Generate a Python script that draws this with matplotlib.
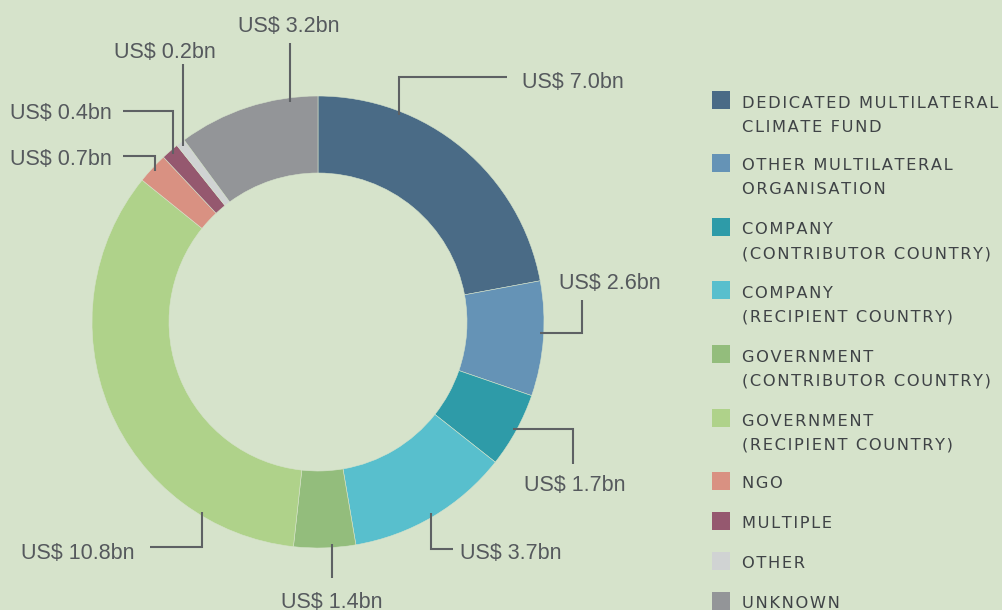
import numpy as np
import matplotlib
matplotlib.use("Agg")
import matplotlib.pyplot as plt
from matplotlib.patches import Rectangle

# funding by recipient type, US$ bn
categories = [
    "DEDICATED MULTILATERAL\nCLIMATE FUND",
    "OTHER MULTILATERAL\nORGANISATION",
    "COMPANY\n(CONTRIBUTOR COUNTRY)",
    "COMPANY\n(RECIPIENT COUNTRY)",
    "GOVERNMENT\n(CONTRIBUTOR COUNTRY)",
    "GOVERNMENT\n(RECIPIENT COUNTRY)",
    "NGO",
    "MULTIPLE",
    "OTHER",
    "UNKNOWN",
]
values = [7.0, 2.6, 1.7, 3.7, 1.4, 10.8, 0.7, 0.4, 0.2, 3.2]
colors = ["#4a6b86", "#6593b6", "#2e9ba8", "#58bfcd", "#93bd7c",
          "#afd28a", "#d99182", "#95586f", "#d0d3d3", "#939598"]

W, H = 1003, 610
BG = "#d6e3cb"
LINE = "#5e6164"
TXT = "#55595d"
LEG_TXT = "#3f4346"


def Y(v):
    # image rows -> axes coords (y up)
    return H - v


def spaced(s):
    # poor man's letter spacing
    return "\u200a".join(s)


fig = plt.figure(figsize=(W / 100, H / 100), dpi=100, facecolor=BG)
ax = fig.add_axes([0, 0, 1, 1])
ax.set_facecolor(BG)

cx, cy = 318, Y(322)
r_out, ring = 226, 77
wedges, _ = ax.pie(values, colors=colors, startangle=90, counterclock=False,
                   radius=r_out, center=(cx, cy),
                   wedgeprops=dict(width=ring, edgecolor=BG, linewidth=0.4))
ax.set_xlim(0, W)
ax.set_ylim(0, H)
ax.set_aspect("auto")
ax.axis("off")

# callouts: fraction along wedge, first segment dir, elbow, end, text x, text y, ha
callouts = [
    (0.27, "v", 77, 507, 522, 80, "left"),
    (0.45, "h", 582, 300, 610, 281, "center"),
    (0.50, "h", 573, 464, 575, 483, "center"),
    (0.50, "v", 549, 453, 460, 551, "left"),
    (0.38, "v", 578, None, 332, 600, "center"),
    (0.205, "v", 547, 150, 135, 551, "right"),
    (0.50, "v", 156, 123, 112, 157, "right"),
    (0.50, "v", 111, 123, 112, 111, "right"),
    (0.50, "v", 64, None, 165, 50, "center"),
    (0.80, "v", 43, None, 289, 24, "center"),
]

for w, v, (frac, d, elbow, end, tx, ty, ha) in zip(wedges, values, callouts):
    a = np.radians(w.theta2 - frac * (w.theta2 - w.theta1))
    x0 = cx + (r_out - 4) * np.cos(a)
    y0 = cy + (r_out - 4) * np.sin(a)
    if d == "v":
        xs, ys = [x0, x0], [y0, Y(elbow)]
        if end is not None:
            xs.append(end)
            ys.append(Y(elbow))
    else:
        xs, ys = [x0, elbow], [y0, y0]
        if end is not None:
            xs.append(elbow)
            ys.append(Y(end))
    ax.plot(xs, ys, color=LINE, lw=1.5, solid_capstyle="butt",
            solid_joinstyle="miter")
    ax.text(tx, Y(ty + 8), f"US$ {v:.1f}bn", ha=ha, va="baseline",
            fontsize=15.5, color=TXT, family=["Liberation Sans", "DejaVu Sans"])

# legend
leg_y = [100, 163, 227, 290, 354, 418, 481, 521, 561, 601]
for name, c, yy in zip(categories, colors, leg_y):
    ax.add_patch(Rectangle((712, Y(yy + 9)), 18, 18, facecolor=c,
                           edgecolor="none"))
    for k, line in enumerate(name.split("\n")):
        ax.text(742, Y(yy + 1 + 24 * k + 6.5), spaced(line), ha="left",
                va="baseline", fontsize=11.7, color=LEG_TXT,
                family="DejaVu Sans")

fig.savefig("out.png", dpi=100, facecolor=BG)
